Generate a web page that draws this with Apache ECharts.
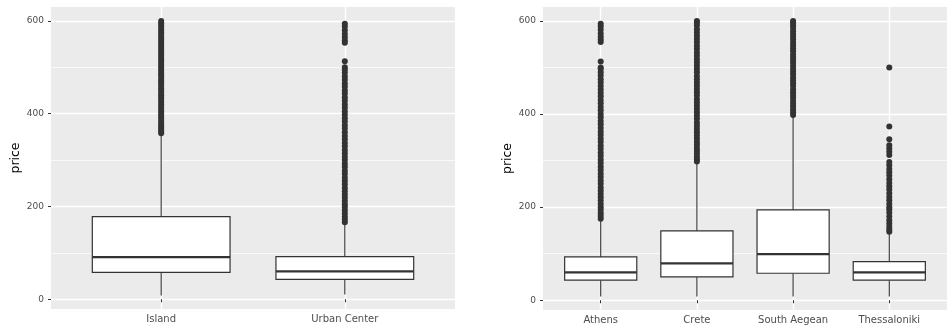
<!DOCTYPE html>
<html><head><meta charset="utf-8">
<script src="https://cdn.jsdelivr.net/npm/echarts@6/dist/echarts.min.js"></script>
<style>html,body{margin:0;padding:0;background:#fff}#c{width:947px;height:328px}</style>
</head><body><div id="c"></div>
<script>
// ---------- data ----------
const typeCategories = ['Island', 'Urban Center'];
// [lower whisker, Q1, median, Q3, upper whisker]
const islandStats = [8, 58, 91, 178, 355];
const urbanStats = [10, 43, 60, 92, 164];
const islandOutliers = [358,362,366,370,375,380,384,390,395,400,405,410,415,420,425,430,435,440,445,450,455,460,465,470,475,480,485,490,495,500,505,510,515,520,525,530,535,540,545,550,555,560,565,570,575,580,585,590,595,600];
const urbanOutliers = [166,172,178,185,192,199,205,212,219,226,233,240,248,255,262,270,277,285,292,300,307,315,322,330,337,345,352,360,368,375,383,390,398,405,413,420,428,435,443,450,458,465,473,480,488,495,500,513,553,558,565,572,580,588,594];

const regionCategories = ['Athens', 'Crete', 'South Aegean', 'Thessaloniki'];
const athensStats = [8, 43, 60, 93, 172];
const creteStats = [8, 50, 79, 149, 296];
const southAegeanStats = [8, 58, 99, 194, 394];
const thessalonikiStats = [8, 43, 60, 83, 144];
const athensOutliers = [175,181,187,194,200,207,214,221,228,235,242,250,257,265,272,280,287,295,302,310,317,325,332,340,347,355,362,370,378,385,393,400,408,415,423,430,438,445,453,460,468,475,483,490,497,500,513,555,560,566,573,581,588,594];
const creteOutliers = [298,303,309,315,321,327,334,340,347,354,361,368,375,382,390,397,404,411,418,425,432,440,447,454,461,468,475,482,490,497,504,511,518,525,532,540,547,554,561,568,575,582,590,596,600];
const southAegeanOutliers = [398,404,410,416,422,428,435,441,447,453,460,466,472,478,485,491,497,503,510,516,522,528,535,541,547,553,560,566,572,578,585,591,596,600];
const thessalonikiOutliers = [147,152,158,165,172,180,188,195,200,207,215,222,230,238,245,252,260,268,275,282,290,297,312,319,326,333,346,373,500];

const yTicks = [0, 200, 400, 600];
const yMinorTicks = [100, 300, 500];
const yMin = -21, yMax = 630;
const yName = 'price';

// ---------- helpers ----------
const FONT = 'DejaVu Sans';
const BOX_HALF = 0.375;
function statsRow(pos, s) { return [pos].concat(s); }
function outlierRows(pos, arr) { return arr.map(v => [pos, v]); }

function renderBox(params, api) {
  const x = api.value(0);
  const lo = api.value(1), q1 = api.value(2), med = api.value(3), q3 = api.value(4), hi = api.value(5);
  const pLo = api.coord([x, lo]), pHi = api.coord([x, hi]);
  const pQ1 = api.coord([x, q1]), pQ3 = api.coord([x, q3]);
  const a = api.coord([x - BOX_HALF, q3]), b = api.coord([x + BOX_HALF, q1]);
  const mL = api.coord([x - BOX_HALF, med]), mR = api.coord([x + BOX_HALF, med]);
  const st = { stroke: '#333333', lineWidth: 1.1, fill: null };
  return {
    type: 'group',
    children: [
      { type: 'line', shape: { x1: pLo[0], y1: pLo[1], x2: pQ1[0], y2: pQ1[1] }, style: st },
      { type: 'line', shape: { x1: pQ3[0], y1: pQ3[1], x2: pHi[0], y2: pHi[1] }, style: st },
      { type: 'rect', shape: { x: a[0], y: a[1], width: b[0] - a[0], height: b[1] - a[1] },
        style: { fill: '#ffffff', stroke: '#333333', lineWidth: 1.2 } },
      { type: 'line', shape: { x1: mL[0], y1: mL[1], x2: mR[0], y2: mR[1] },
        style: { stroke: '#333333', lineWidth: 2.2 } }
    ]
  };
}

function xAxisDef(gridIndex, cats) {
  const pos = cats.map((c, i) => i + 1);
  return {
    type: 'value', gridIndex, min: 0.4, max: cats.length + 0.6,
    axisLine: { show: false },
    axisTick: { show: true, length: 3, customValues: pos, lineStyle: { color: '#333333', width: 1 } },
    axisLabel: { customValues: pos, margin: 5, color: '#4D4D4D', fontFamily: FONT, fontSize: 10,
      formatter: v => cats[Math.round(v) - 1] || '' },
    splitLine: { show: true, lineStyle: { color: '#ffffff', width: 1.4 } }
  };
}
function yAxisDefs(gridIndex) {
  return [{
    type: 'value', gridIndex, min: yMin, max: yMax,
    name: yName, nameLocation: 'middle', nameGap: 29,
    nameTextStyle: { color: '#000000', fontFamily: FONT, fontSize: 12.5 },
    axisLine: { show: false },
    axisTick: { show: true, length: 3, customValues: yTicks, lineStyle: { color: '#333333', width: 1 } },
    axisLabel: { customValues: yTicks, margin: 7, color: '#4D4D4D', fontFamily: FONT, fontSize: 9 },
    splitLine: { show: true, lineStyle: { color: '#ffffff', width: 1.4 } }
  }, {
    type: 'value', gridIndex, min: yMin, max: yMax, position: 'left',
    axisLine: { show: false },
    axisTick: { show: false, customValues: yMinorTicks },
    axisLabel: { show: false, customValues: yMinorTicks },
    splitLine: { show: true, lineStyle: { color: '#ffffff', width: 0.7 } }
  }];
}

const chart = echarts.init(document.getElementById('c'), null, { renderer: 'canvas' });
const scatterStyle = { color: '#333333', opacity: 1 };
chart.setOption({
  animation: false,
  backgroundColor: '#ffffff',
  grid: [
    { left: 51, top: 7, width: 404, height: 302, show: true, backgroundColor: '#EBEBEB', borderWidth: 0 },
    { left: 543, top: 7, width: 406, height: 303, show: true, backgroundColor: '#EBEBEB', borderWidth: 0 }
  ],
  xAxis: [xAxisDef(0, typeCategories), xAxisDef(1, regionCategories)],
  yAxis: yAxisDefs(0).concat(yAxisDefs(1)),
  series: [
    { type: 'scatter', xAxisIndex: 0, yAxisIndex: 0, symbolSize: 6, itemStyle: scatterStyle, silent: true,
      data: outlierRows(1, islandOutliers).concat(outlierRows(2, urbanOutliers)) },
    { type: 'custom', xAxisIndex: 0, yAxisIndex: 0, renderItem: renderBox, silent: true,
      encode: { x: 0, y: [1, 2, 3, 4, 5] },
      data: [statsRow(1, islandStats), statsRow(2, urbanStats)] },
    { type: 'scatter', xAxisIndex: 1, yAxisIndex: 2, symbolSize: 6, itemStyle: scatterStyle, silent: true,
      data: outlierRows(1, athensOutliers).concat(outlierRows(2, creteOutliers),
        outlierRows(3, southAegeanOutliers), outlierRows(4, thessalonikiOutliers)) },
    { type: 'custom', xAxisIndex: 1, yAxisIndex: 2, renderItem: renderBox, silent: true,
      encode: { x: 0, y: [1, 2, 3, 4, 5] },
      data: [statsRow(1, athensStats), statsRow(2, creteStats), statsRow(3, southAegeanStats), statsRow(4, thessalonikiStats)] }
  ]
});
</script></body></html>
